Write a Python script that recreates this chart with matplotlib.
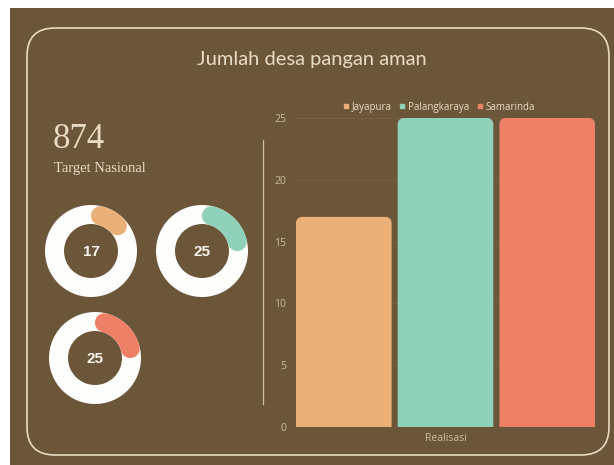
import numpy as np
import matplotlib
matplotlib.use("Agg")
import matplotlib.pyplot as plt
from matplotlib.patches import Rectangle, FancyBboxPatch, Wedge, Polygon
from matplotlib.lines import Line2D

# data
cities = ["Jayapura", "Palangkaraya", "Samarinda"]
realisasi = [17, 25, 25]
city_colors = ["#EBB077", "#8FD1B9", "#EE8068"]
target_nasional = 874
donut_max = 100
y_ticks = [0, 5, 10, 15, 20, 25]

BG = "#6C563A"
CREAM = "#E8DBC4"
TICK = "#CDBB9A"
W, H = 614, 465

fig = plt.figure(figsize=(W / 100, H / 100), dpi=100, facecolor="white")

# canvas axes in pixel units (y pointing down)
bg = fig.add_axes([0, 0, 1, 1], zorder=0)
bg.set_xlim(0, W)
bg.set_ylim(H, 0)
bg.axis("off")

bg.add_patch(Rectangle((10, 8), W - 10, H - 8, facecolor=BG, edgecolor="none"))
bg.add_patch(FancyBboxPatch((27, 28), 582, 427,
                            boxstyle="round,pad=0,rounding_size=28",
                            facecolor="none", edgecolor=CREAM, linewidth=1.2))

bg.text(312, 60, "Jumlah desa pangan aman", ha="center", va="center",
        fontsize=14.5, color=CREAM, family="Lato")

bg.text(53, 148, str(target_nasional), ha="left", va="baseline",
        fontsize=25, color=CREAM, family="Liberation Serif")
bg.text(54, 168, "Target Nasional", ha="left", va="center",
        fontsize=10.5, color=CREAM, family="Liberation Serif")

# separator
bg.plot([263, 263], [140, 404], color=CREAM, linewidth=0.9, alpha=0.8)

# donuts: value / donut_max of the ring, clockwise from 12 o'clock,
# round caps included in the arc length
donut_pos = [(91, 251), (202, 251), (95, 358)]
R_OUT, R_IN = 46, 27
rm = (R_OUT + R_IN) / 2
cap = (R_OUT - R_IN) / 2 / rm
for (cx, cy), val, col in zip(donut_pos, realisasi, city_colors):
    bg.add_patch(Wedge((cx, cy), R_OUT, 0, 360, width=R_OUT - R_IN,
                       facecolor="#FDFDFB", edgecolor="none"))
    sweep = val / donut_max * 2 * np.pi
    th = np.linspace(np.pi / 2 - cap, np.pi / 2 - sweep + cap, 60)
    bg.plot(cx + rm * np.cos(th), cy - rm * np.sin(th), color=col,
            linewidth=(R_OUT - R_IN) * 0.72, solid_capstyle="round")
    bg.text(cx, cy + 1, str(val), ha="center", va="center", fontsize=11,
            weight="bold", color="#F8F4EC", family="Liberation Sans")

# bar chart
ax = fig.add_axes([296 / W, (H - 427) / H, 299 / W, 309 / H], zorder=1)
ax.patch.set_alpha(0)
x = np.arange(len(cities))
bw = 0.94
ax.set_xlim(-0.47, 2.47)
ax.set_ylim(0, 25)
rx = 6 / (299 / 2.94)   # 6 px corner radius in data units
ry = 6 / (309 / 25)
corner = np.linspace(0, np.pi / 2, 12)


def rounded_top_bar(xc, h):
    x0, x1 = xc - bw / 2, xc + bw / 2
    right = np.column_stack([x1 - rx + rx * np.cos(corner),
                             h - ry + ry * np.sin(corner)])
    left = np.column_stack([x0 + rx - rx * np.cos(corner[::-1]),
                            h - ry + ry * np.sin(corner[::-1])])
    return np.vstack([[x1, 0], right, left, [x0, 0]])


for xi, val, col in zip(x, realisasi, city_colors):
    ax.add_patch(Polygon(rounded_top_bar(xi, val), closed=True, facecolor=col,
                         edgecolor="none", clip_on=False, zorder=2))

ax.set_yticks(y_ticks)
ax.set_xticks([])
ax.tick_params(axis="y", length=0, pad=7, labelsize=7.5, labelcolor=TICK)
for lbl in ax.get_yticklabels():
    lbl.set_family("Open Sans")
ax.grid(axis="y", color="#77613F", linewidth=0.6, zorder=0)
for s in ax.spines.values():
    s.set_visible(False)
ax.set_xlabel("Realisasi", color=TICK, fontsize=7.5, family="Open Sans",
              labelpad=4)

handles = [Line2D([], [], marker="s", linestyle="none", markersize=2.2,
                  color=c, label=n) for n, c in zip(cities, city_colors)]
leg = ax.legend(handles=handles, ncol=3, frameon=False, loc="lower center",
                bbox_to_anchor=(0.48, 1.0), borderaxespad=0.15,
                handlelength=0.4, handletextpad=0.35, columnspacing=0.9,
                prop={"family": "Open Sans", "size": 7})
for t in leg.get_texts():
    t.set_color(CREAM)

fig.savefig("out.png", dpi=100, facecolor="white")
